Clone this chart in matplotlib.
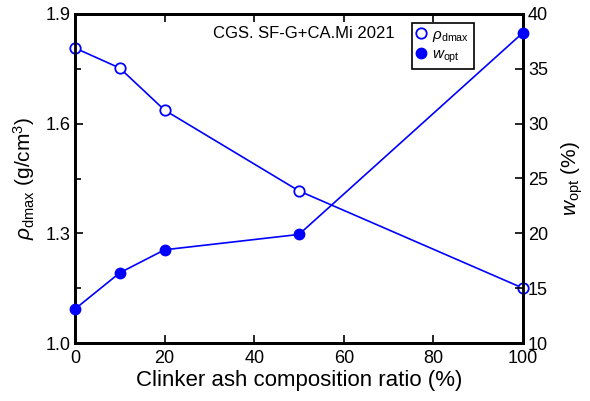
import matplotlib
matplotlib.use("Agg")
import matplotlib.pyplot as plt
from matplotlib.ticker import FixedLocator, MultipleLocator, FormatStrFormatter

plt.rcParams['font.family'] = ['Liberation Sans', 'DejaVu Sans']
plt.rcParams['mathtext.fontset'] = 'custom'
plt.rcParams['mathtext.rm'] = 'Liberation Sans'
plt.rcParams['mathtext.it'] = 'Liberation Sans:italic'

# ---------------- data ----------------
ratio = [0, 10, 20, 50, 100]
rho_dmax = [1.807, 1.752, 1.637, 1.416, 1.150]
w_opt = [13.1, 16.4, 18.5, 19.9, 38.3]

rho_ticks = [1.0, 1.3, 1.6, 1.9]
rho_minor = [1.15, 1.45, 1.75]

blue = '#0000ff'

fig = plt.figure(figsize=(5.9, 4.01), dpi=100)
ax = fig.add_axes([75 / 590, 58 / 401, 448 / 590, 329 / 401])
ax2 = ax.twinx()

l1, = ax.plot(ratio, rho_dmax, '-o', color=blue, lw=1.2, ms=7.5,
              mfc='white', mec=blue, mew=1.3, label=r'$\rho_{\rm dmax}$', zorder=3)
l2, = ax2.plot(ratio, w_opt, '-o', color=blue, lw=1.2, ms=7.5,
               mfc=blue, mec=blue, label=r'$w_{\rm opt}$', zorder=3)
for ln in (l1, l2):
    ln.set_clip_on(False)

ax.set_xlim(0, 100)
ax.set_ylim(1.0, 1.9)
ax2.set_ylim(10, 40)
ax.xaxis.set_major_locator(MultipleLocator(20))
ax.yaxis.set_major_locator(FixedLocator(rho_ticks))
ax.yaxis.set_minor_locator(FixedLocator(rho_minor))
ax.yaxis.set_major_formatter(FormatStrFormatter('%.1f'))
ax2.yaxis.set_major_locator(MultipleLocator(5))

for a in (ax, ax2):
    for s in a.spines.values():
        s.set_linewidth(2)
ax.tick_params(axis='both', which='both', direction='in', labelsize=13, width=1.2)
ax.tick_params(axis='x', top=True, length=6, pad=5)
ax.tick_params(axis='y', which='major', length=6)
ax.tick_params(axis='y', which='minor', length=4)
ax2.tick_params(axis='y', direction='in', labelsize=13, length=6, width=1.2)

ax.set_xlabel('Clinker ash composition ratio (%)', fontsize=16, labelpad=2)
ax.set_ylabel(r'$\rho_{\rm dmax}$ (g/cm$^3$)', fontsize=15, labelpad=6)
ax2.set_ylabel(r'$w_{\rm opt}$ (%)', fontsize=15, labelpad=8)

ax.text((213 - 75) / 448, 1 - (33 - 14) / 329, 'CGS. SF-G+CA.Mi 2021',
        transform=ax.transAxes, fontsize=12, va='center', ha='left')

leg = ax.legend(handles=[l1, l2], loc='upper left',
                bbox_to_anchor=((412 - 75) / 448, 1 - (23 - 14) / 329),
                handlelength=0.6, handletextpad=0.4, borderpad=0.3,
                borderaxespad=0, labelspacing=0.25, fontsize=11,
                fancybox=False, framealpha=1, edgecolor='black')
leg.get_frame().set_linewidth(1.2)
for h in leg.legend_handles:
    h.set_linestyle('None')

fig.savefig('out.png', dpi=100)
